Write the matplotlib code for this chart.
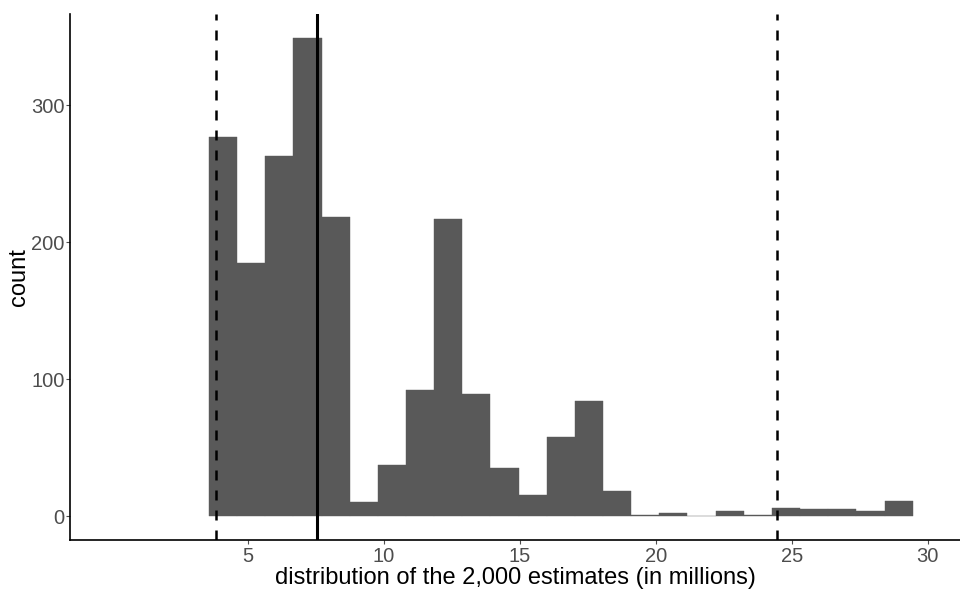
import matplotlib.pyplot as plt
import numpy as np

plt.rcParams['font.family'] = ['Liberation Sans', 'DejaVu Sans']

# histogram of the estimates, 25 bins between these limits
bin_lo = 3.58
bin_hi = 29.45
counts = [277, 185, 263, 349, 218, 10, 37, 92, 217, 89, 35, 15, 58, 84, 18,
          1, 2, 0, 4, 1, 6, 5, 5, 4, 11]

# interval markers: lower / upper (dashed) and centre (solid)
lower = 3.82
centre = 7.54
upper = 24.47

x_ticks = [5, 10, 15, 20, 25, 30]
y_ticks = [0, 100, 200, 300]

edges = np.linspace(bin_lo, bin_hi, len(counts) + 1)
mids = (edges[:-1] + edges[1:]) / 2

fig = plt.figure(figsize=(9.6, 5.9), dpi=100)
ax = fig.add_axes([70/960, 50/590, 890/960, 526/590])

ax.hist(mids, bins=edges, weights=counts, color='#595959',
        edgecolor='#595959', linewidth=0.3)
ax.axvline(lower, color='black', linestyle=(0, (4, 4)), linewidth=1.8)
ax.axvline(upper, color='black', linestyle=(0, (4, 4)), linewidth=1.8)
ax.axvline(centre, color='black', linewidth=2.2)

ax.set_xlim(-1.53, 31.19)
ax.set_ylim(-17.5, 366.5)
ax.set_xticks(x_ticks)
ax.set_yticks(y_ticks)

for s in ['top', 'right']:
    ax.spines[s].set_visible(False)
for s in ['left', 'bottom']:
    ax.spines[s].set_linewidth(1.2)
    ax.spines[s].set_color('black')
ax.tick_params(colors='#4D4D4D', labelsize=14.5, length=3, width=0.8)
ax.tick_params(axis='y', pad=1)
ax.tick_params(axis='x', pad=2)

ax.set_xlabel('distribution of the 2,000 estimates (in millions)',
              fontsize=17, labelpad=1)
ax.set_ylabel('count', fontsize=17, labelpad=1)

fig.savefig('out.png', dpi=100)
